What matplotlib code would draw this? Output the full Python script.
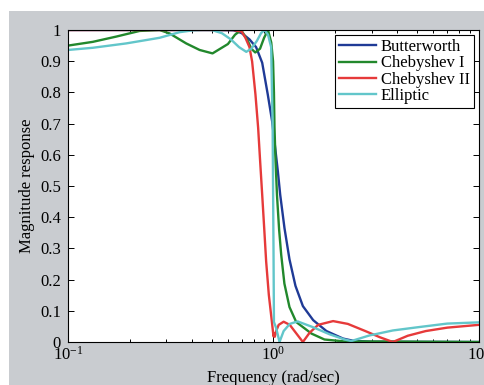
import matplotlib
matplotlib.use("Agg")
import matplotlib.pyplot as plt
from matplotlib.patches import Rectangle
from matplotlib.ticker import LogLocator, NullFormatter

plt.rcParams['font.family'] = ['Liberation Serif', 'DejaVu Serif']
plt.rcParams['mathtext.fontset'] = 'custom'
plt.rcParams['mathtext.rm'] = 'Liberation Serif'
plt.rcParams['mathtext.it'] = 'Liberation Serif'

# ---- data ----
bw_f = [0.1, 0.3, 0.5, 0.64, 0.70, 0.764, 0.823, 0.881, 0.938, 0.985, 1.015,
        1.05, 1.078, 1.131, 1.196, 1.279, 1.39, 1.56, 1.81, 2.18, 2.44, 3.0, 10]
bw_m = [1.0, 1.0, 1.0, 0.999, 0.99, 0.97, 0.945, 0.895, 0.793, 0.707, 0.632,
        0.547, 0.472, 0.365, 0.265, 0.18, 0.115, 0.07, 0.035, 0.011, 0.004, 0.001, 0.0]

c1_f = [0.1, 0.132, 0.172, 0.223, 0.279, 0.312, 0.376, 0.437, 0.505, 0.60, 0.65,
        0.696, 0.75, 0.78, 0.815, 0.86, 0.90, 0.94, 0.975, 0.995, 1.005, 1.011,
        1.023, 1.04, 1.065, 1.09, 1.13, 1.196, 1.29, 1.53, 1.77, 2.2, 10]
c1_m = [0.950, 0.962, 0.979, 0.997, 1.0, 0.989, 0.957, 0.936, 0.925, 0.955, 0.985,
        1.0, 0.965, 0.94, 0.928, 0.94, 0.975, 1.0, 0.96, 0.90, 0.80, 0.69,
        0.58, 0.47, 0.36, 0.28, 0.187, 0.112, 0.064, 0.027, 0.008, 0.002, 0.0]

c2_f = [0.1, 0.5, 0.634, 0.70, 0.73, 0.764, 0.787, 0.817, 0.842, 0.861, 0.881,
        0.901, 0.921, 0.949, 0.982, 1.0, 1.008, 1.015, 1.03, 1.06, 1.12, 1.2,
        1.3, 1.39, 1.5, 1.65, 1.95, 2.3, 2.8, 3.3, 3.81, 4.5, 5.5, 7.0, 10]
c2_m = [1.0, 1.0, 1.0, 0.995, 0.975, 0.945, 0.899, 0.793, 0.686, 0.579, 0.472,
        0.365, 0.258, 0.151, 0.065, 0.018, 0.028, 0.017, 0.035, 0.055, 0.065, 0.055,
        0.025, 0.0, 0.03, 0.055, 0.067, 0.058, 0.035, 0.015, 0.0, 0.02, 0.035, 0.046, 0.055]

el_f = [0.1, 0.132, 0.192, 0.279, 0.349, 0.405, 0.45, 0.50, 0.56, 0.62, 0.68,
        0.737, 0.78, 0.83, 0.87, 0.904, 0.94, 0.974, 0.99, 1.0, 1.005, 1.03,
        1.07, 1.12, 1.2, 1.31, 1.55, 1.87, 2.22, 2.39, 2.93, 3.81, 5.13, 7.0, 10]
el_m = [0.936, 0.943, 0.957, 0.975, 0.993, 0.999, 1.0, 1.0, 0.99, 0.97, 0.945,
        0.93, 0.94, 0.965, 0.99, 1.0, 0.985, 0.945, 0.70, 0.30, 0.064, 0.045,
        0.0, 0.035, 0.058, 0.066, 0.048, 0.025, 0.008, 0.003, 0.021, 0.037, 0.048, 0.059, 0.063]

labels = ['Butterworth', 'Chebyshev I', 'Chebyshev II', 'Elliptic']
colors = ['#1f3a96', '#22882c', '#e63a3a', '#62c6ca']
y_ticks = [0, 0.1, 0.2, 0.3, 0.4, 0.5, 0.6, 0.7, 0.8, 0.9, 1]
y_tick_labels = ['0', '0.1', '0.2', '0.3', '0.4', '0.5', '0.6', '0.7', '0.8', '0.9', '1']
x_ticks = [0.1, 1, 10]
x_tick_labels = [r'$10^{-1}$', r'$10^{0}$', r'$10^{1}$']

W, H = 485, 385
fig = plt.figure(figsize=(W / 100, H / 100), dpi=100)
fig.patch.set_facecolor('white')
fig.add_artist(Rectangle((9 / W, 0), 1 - 9 / W, 1 - 11 / H, transform=fig.transFigure,
                         facecolor='#c9ccd0', edgecolor='none', zorder=-10))

ax = fig.add_axes([68 / W, 1 - 342 / H, (479 - 68) / W, (342 - 30) / H])
ax.set_facecolor('white')

for f, m, lab, c in zip([bw_f, c1_f, c2_f, el_f], [bw_m, c1_m, c2_m, el_m], labels, colors):
    ax.plot(f, m, color=c, lw=1.7, label=lab)

ax.set_xscale('log')
ax.set_xlim(0.1, 10)
ax.set_ylim(0, 1)
ax.set_xticks(x_ticks)
ax.set_xticklabels(x_tick_labels)
ax.xaxis.set_minor_locator(LogLocator(base=10, subs=range(2, 10)))
ax.xaxis.set_minor_formatter(NullFormatter())
ax.set_yticks(y_ticks)
ax.set_yticklabels(y_tick_labels)
ax.tick_params(which='both', direction='in', top=True, right=True, labelsize=12)
ax.tick_params(axis='y', pad=5)
ax.tick_params(axis='x', pad=3)
ax.tick_params(which='major', length=4, width=0.7)
ax.tick_params(which='minor', length=2, width=0.7)
for s in ax.spines.values():
    s.set_linewidth(0.8)

ax.set_xlabel('Frequency (rad/sec)', fontsize=12, labelpad=4)
ax.set_ylabel('Magnitude response', fontsize=12, labelpad=4)

leg = ax.legend(loc='upper right', fontsize=12, frameon=True, fancybox=False,
                edgecolor='black', framealpha=1, handlelength=2.2, handletextpad=0.3,
                labelspacing=0.02, borderpad=0.25, borderaxespad=0.3)
leg.get_frame().set_linewidth(0.8)

fig.savefig('out.png', dpi=100, facecolor=fig.get_facecolor())
